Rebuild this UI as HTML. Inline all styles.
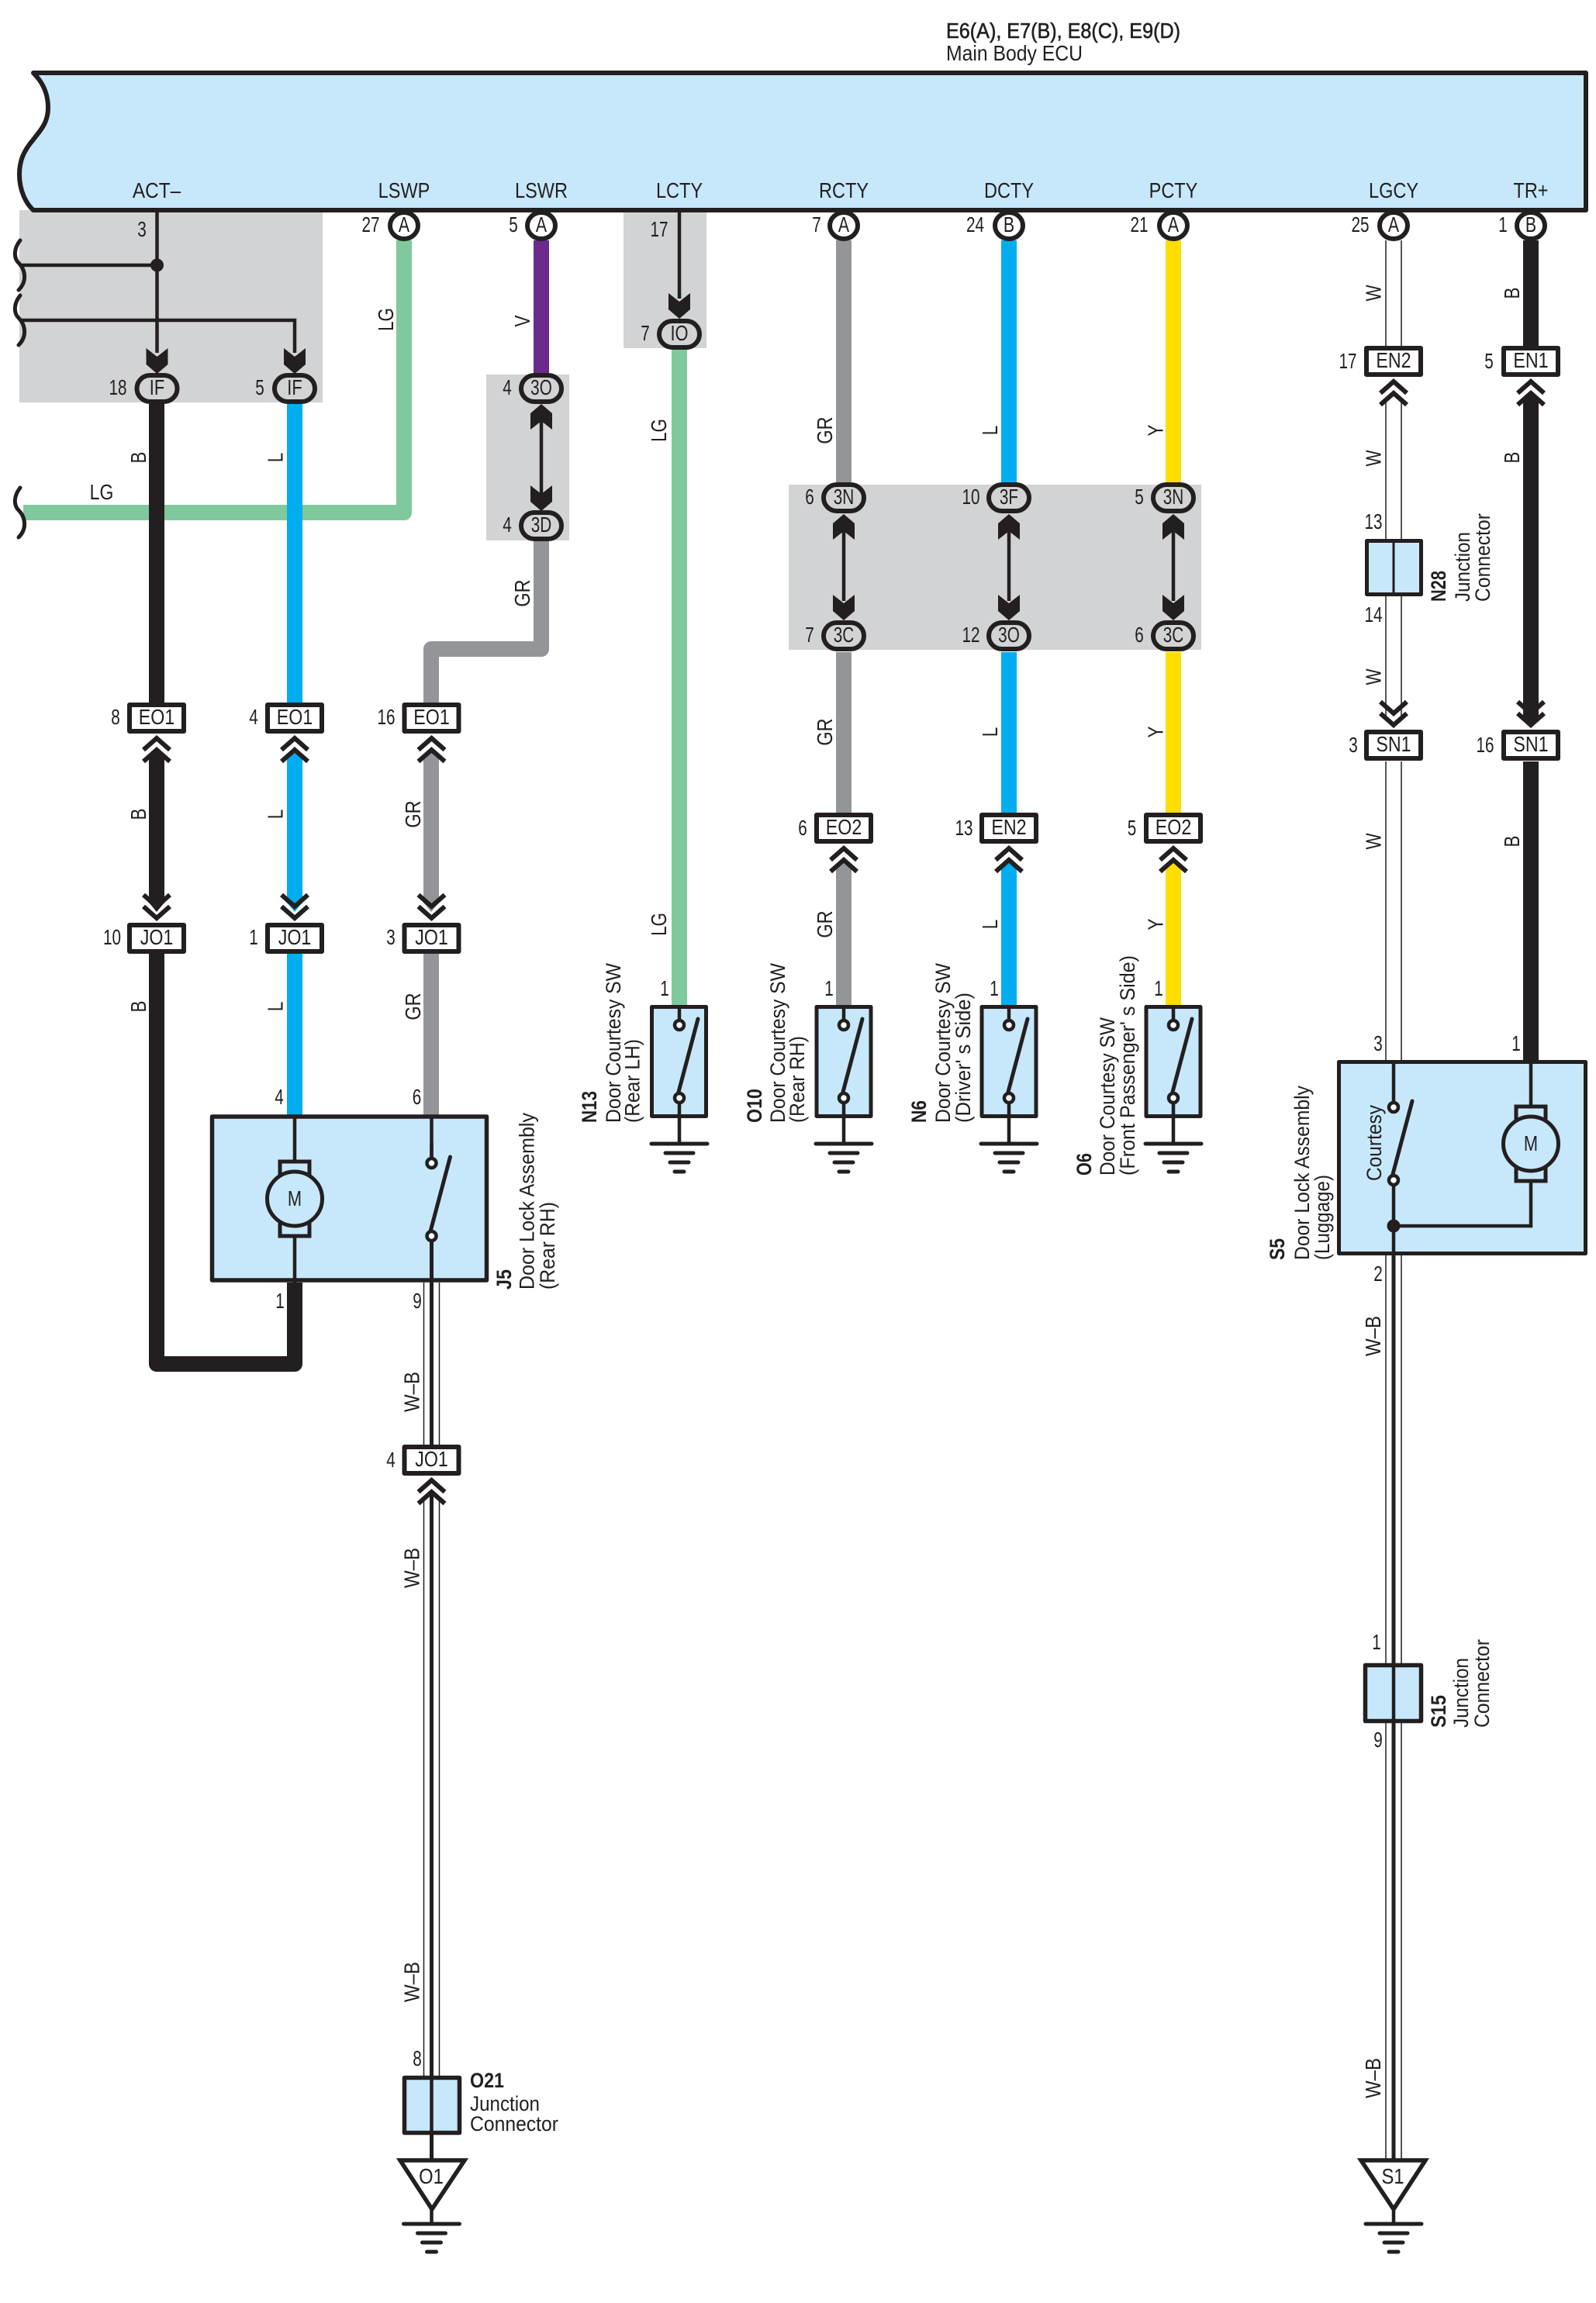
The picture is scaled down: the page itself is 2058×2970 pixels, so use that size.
<!DOCTYPE html>
<html><head><meta charset="utf-8"><style>
html,body{margin:0;padding:0;background:#fff}
svg{display:block}
text{font-family:"Liberation Sans",sans-serif;font-size:28px;fill:#231f20}
.m{text-anchor:middle}
.b{font-weight:bold;font-size:27px}
.r{font-size:27px}
.th{fill:none;stroke:#231f20;stroke-width:4.5}
.tl{fill:none;stroke:#231f20;stroke-width:1.5}
.wb{fill:none;stroke:#231f20;stroke-width:5}
</style></head><body>
<svg xmlns="http://www.w3.org/2000/svg" width="2058" height="2970" viewBox="0 0 2058 2970">
<defs>
<polygon id="ad" fill="#231f20" points="-14,-33 0,-22 14,-33 14,-12 0,0 -14,-12"/>
<polygon id="au" fill="#231f20" points="-14,33 0,22 14,33 14,12 0,0 -14,12"/>
<g id="cu" fill="none" stroke="#231f20" stroke-width="6"><polyline points="-17,21 0,6 17,21"/><polyline points="-17,36 0,21 17,36"/></g>
<g id="cd" fill="none" stroke="#231f20" stroke-width="6"><polyline points="-17,-21 0,-6 17,-21"/><polyline points="-17,-36 0,-21 17,-36"/></g>
<polygon id="tu" points="-10,1 10,1 0,-11"/>
<polygon id="td" points="-10,-1 10,-1 0,11"/>
<rect id="cb" x="-35" y="-17" width="70" height="34" fill="#fff" stroke="#231f20" stroke-width="6" stroke-linejoin="round"/>
<rect id="pl" x="-26" y="-17" width="52" height="34" rx="17" fill="#d1d3d4" stroke="#231f20" stroke-width="6"/>
<ellipse id="ca" rx="18" ry="17" fill="#fff" stroke="#231f20" stroke-width="6"/>
<path id="sq" d="M26,-32 C18,-22 17,-10 24,-3 C32,5 36,20 24,32" fill="none" stroke="#231f20" stroke-width="5" stroke-linecap="round"/>
<g id="gd" stroke="#231f20" stroke-width="5" stroke-linecap="round" fill="none">
<path d="M-36,0H36M-18,12H18M-12,24H12M-6,36H6"/></g>
<g id="sw">
<line x1="0" y1="0" x2="0" y2="26" class="th"/>
<circle cx="0" cy="26" r="6" fill="#fff" stroke="#231f20" stroke-width="4.5"/>
<line x1="-2" y1="116" x2="24" y2="18" stroke="#231f20" stroke-width="5" stroke-linecap="round"/>
<circle cx="0" cy="120" r="6" fill="#fff" stroke="#231f20" stroke-width="4.5"/>
</g>
<g id="mt" fill="none" stroke="#231f20" stroke-width="5">
<rect x="-19" y="-48" width="38" height="18" fill="#c7e8fb"/>
<rect x="-19" y="30" width="38" height="18" fill="#c7e8fb"/>
<ellipse rx="35.5" ry="35" fill="#c7e8fb"/>
</g>
</defs>

<!-- grey panels -->
<rect x="25" y="271" width="391" height="248" fill="#d1d3d4"/>
<rect x="804" y="271" width="107" height="178" fill="#d1d3d4"/>
<rect x="627" y="483" width="107" height="214" fill="#d1d3d4"/>
<rect x="1017" y="625" width="532" height="213" fill="#d1d3d4"/>

<!-- LG under other wires -->
<path d="M521,310V661H30" fill="none" stroke="#80c99c" stroke-width="20" stroke-linejoin="round" stroke-linecap="butt"/>

<!-- ACT thin -->
<path class="th" d="M202.5,271V455M28,342H202M28,413H380V455"/>
<circle cx="202.5" cy="342" r="8.5" fill="#231f20"/>
<use href="#sq" x="0" y="342"/><use href="#sq" x="0" y="413"/><use href="#sq" x="0" y="661"/>

<!-- black ACT -->
<g fill="none" stroke="#231f20" stroke-width="20" stroke-linejoin="round">
<path d="M202,521V906"/>
<path d="M202,976V1165"/>
<path d="M202,1230V1759H380V1654"/>
<path d="M1974,310V446"/>
<path d="M1974,516V923"/>
<path d="M1974,982V1367"/>
</g>
<use href="#tu" x="202" y="976" fill="#231f20"/><use href="#td" x="202" y="1165" fill="#231f20"/>
<use href="#tu" x="1974" y="516" fill="#231f20"/><use href="#td" x="1974" y="923" fill="#231f20"/>

<!-- blue -->
<g fill="none" stroke="#00aeef" stroke-width="20">
<path d="M380,521V906"/><path d="M380,976V1165"/><path d="M380,1230V1438"/>
<path d="M1301,310V622"/><path d="M1301,841V1048"/><path d="M1301,1119V1296"/>
</g>
<use href="#tu" x="380" y="976" fill="#00aeef"/><use href="#td" x="380" y="1165" fill="#00aeef"/>
<use href="#tu" x="1301" y="1119" fill="#00aeef"/>

<!-- grey wires -->
<g fill="none" stroke="#939598" stroke-width="20" stroke-linejoin="round">
<path d="M698,698V837H556V906"/><path d="M556,976V1165"/><path d="M556,1230V1438"/>
<path d="M1088,310V622"/><path d="M1088,841V1048"/><path d="M1088,1119V1296"/>
</g>
<use href="#tu" x="556" y="976" fill="#939598"/><use href="#td" x="556" y="1165" fill="#939598"/>
<use href="#tu" x="1088" y="1119" fill="#939598"/>

<!-- violet, green, yellow -->
<path d="M698,310V481" fill="none" stroke="#6c2a8c" stroke-width="20"/>
<path d="M876,451V1296" fill="none" stroke="#80c99c" stroke-width="20"/>
<g fill="none" stroke="#ffdd00" stroke-width="20">
<path d="M1513,310V622"/><path d="M1513,841V1048"/><path d="M1513,1119V1296"/>
</g>
<use href="#tu" x="1513" y="1119" fill="#ffdd00"/>

<!-- thin lines inside grey -->
<path class="th" d="M876,271V385M698,530V650M1088,670V775M1301,670V775M1513,670V775"/>

<!-- W wire -->
<path class="tl" d="M1787,310V446M1807,310V446M1787,516V695M1807,516V695M1787,769V925M1807,769V925M1787,982V1367M1807,982V1367"/>

<!-- W-B wires -->
<path class="tl" d="M546.5,1654V1863M566.5,1654V1863M546.5,1930V2677M566.5,1930V2677"/>
<path class="wb" d="M556.5,1654V1863M556.5,1925V2677M556.5,2753V2786"/>
<path class="tl" d="M1787,1619V2145M1807,1619V2145M1787,2222V2786M1807,2222V2786"/>
<path class="wb" d="M1797,1619V2145M1797,2222V2786"/>

<!-- ECU -->
<path d="M43,94 C55,106 62,120 62,139 C62,160 50,170 43,180 C30,195 25,208 25,225 C25,245 33,262 43,271 H2045 V94 Z" fill="#c7e8fb" stroke="#231f20" stroke-width="6" stroke-linejoin="round"/>
<text x="1220" y="49" textLength="302" lengthAdjust="spacingAndGlyphs" stroke="#231f20" stroke-width=".6">E6(A), E7(B), E8(C), E9(D)</text>
<text x="1220" y="78" textLength="176" lengthAdjust="spacingAndGlyphs">Main Body ECU</text>
<g>
<text class="m" transform="translate(202,255) scale(.87,1)">ACT–</text>
<text class="m" transform="translate(521,255) scale(.84,1)">LSWP</text>
<text class="m" transform="translate(698,255) scale(.84,1)">LSWR</text>
<text class="m" transform="translate(876,255) scale(.84,1)">LCTY</text>
<text class="m" transform="translate(1088,255) scale(.84,1)">RCTY</text>
<text class="m" transform="translate(1301,255) scale(.84,1)">DCTY</text>
<text class="m" transform="translate(1513,255) scale(.84,1)">PCTY</text>
<text class="m" transform="translate(1797,255) scale(.84,1)">LGCY</text>
<text class="m" transform="translate(1974,255) scale(.84,1)">TR+</text>
</g>

<!-- ECU pin circles -->
<g>
<use href="#ca" x="521" y="291"/><use href="#ca" x="698" y="291"/><use href="#ca" x="1088" y="291"/><use href="#ca" x="1301" y="291"/><use href="#ca" x="1513" y="291"/><use href="#ca" x="1797" y="291"/><use href="#ca" x="1974" y="291"/>
<text class="m" transform="translate(521,299) scale(.76,1)">A</text>
<text class="m" transform="translate(698,299) scale(.76,1)">A</text>
<text class="m" transform="translate(1088,299) scale(.76,1)">A</text>
<text class="m" transform="translate(1301,299) scale(.76,1)">B</text>
<text class="m" transform="translate(1513,299) scale(.76,1)">A</text>
<text class="m" transform="translate(1797,299) scale(.76,1)">A</text>
<text class="m" transform="translate(1974,299) scale(.76,1)">B</text>
</g>

<!-- pills & arrows -->
<use href="#ad" x="202.5" y="482"/><use href="#ad" x="380" y="482"/><use href="#ad" x="876" y="411"/>
<use href="#au" x="698" y="521"/><use href="#ad" x="698" y="659"/>
<use href="#au" x="1088" y="663"/><use href="#ad" x="1088" y="800"/>
<use href="#au" x="1301" y="663"/><use href="#ad" x="1301" y="800"/>
<use href="#au" x="1513" y="663"/><use href="#ad" x="1513" y="800"/>
<use href="#pl" x="202.5" y="501"/><use href="#pl" x="380" y="501"/><use href="#pl" x="876" y="431"/>
<use href="#pl" x="698" y="501"/><use href="#pl" x="698" y="678"/>
<use href="#pl" x="1088" y="642"/><use href="#pl" x="1301" y="642"/><use href="#pl" x="1513" y="642"/>
<use href="#pl" x="1088" y="820"/><use href="#pl" x="1301" y="820"/><use href="#pl" x="1513" y="820"/>
<g>
<text class="m" transform="translate(202.5,509) scale(.78,1)">IF</text>
<text class="m" transform="translate(380,509) scale(.78,1)">IF</text>
<text class="m" transform="translate(876,439) scale(.78,1)">IO</text>
<text class="m" transform="translate(698,509) scale(.74,1)">3O</text>
<text class="m" transform="translate(698,686) scale(.74,1)">3D</text>
<text class="m" transform="translate(1088,650) scale(.74,1)">3N</text>
<text class="m" transform="translate(1301,650) scale(.74,1)">3F</text>
<text class="m" transform="translate(1513,650) scale(.74,1)">3N</text>
<text class="m" transform="translate(1088,828) scale(.74,1)">3C</text>
<text class="m" transform="translate(1301,828) scale(.74,1)">3O</text>
<text class="m" transform="translate(1513,828) scale(.74,1)">3C</text>
</g>

<!-- rectangular connectors -->
<use href="#cb" x="202" y="926"/><use href="#cb" x="380" y="926"/><use href="#cb" x="556.5" y="926"/>
<use href="#cb" x="202" y="1210"/><use href="#cb" x="380" y="1210"/><use href="#cb" x="556.5" y="1210"/>
<use href="#cb" x="556.5" y="1883"/>
<use href="#cb" x="1088" y="1068"/><use href="#cb" x="1301" y="1068"/><use href="#cb" x="1513" y="1068"/>
<use href="#cb" x="1797" y="466"/><use href="#cb" x="1974" y="466"/>
<use href="#cb" x="1797" y="961"/><use href="#cb" x="1974" y="961"/>
<use href="#cu" x="202" y="946"/><use href="#cu" x="380" y="946"/><use href="#cu" x="556.5" y="946"/>
<use href="#cd" x="202" y="1190"/><use href="#cd" x="380" y="1190"/><use href="#cd" x="556.5" y="1190"/>
<use href="#cu" x="556.5" y="1903"/>
<use href="#cu" x="1088" y="1088"/><use href="#cu" x="1301" y="1088"/><use href="#cu" x="1513" y="1088"/>
<use href="#cu" x="1797" y="486"/><use href="#cu" x="1974" y="486"/>
<use href="#cd" x="1797" y="941"/><use href="#cd" x="1974" y="941"/>
<g>
<text class="m" transform="translate(202,934) scale(.83,1)">EO1</text>
<text class="m" transform="translate(380,934) scale(.83,1)">EO1</text>
<text class="m" transform="translate(556.5,934) scale(.83,1)">EO1</text>
<text class="m" transform="translate(202,1218) scale(.83,1)">JO1</text>
<text class="m" transform="translate(380,1218) scale(.83,1)">JO1</text>
<text class="m" transform="translate(556.5,1218) scale(.83,1)">JO1</text>
<text class="m" transform="translate(556.5,1891) scale(.83,1)">JO1</text>
<text class="m" transform="translate(1088,1076) scale(.83,1)">EO2</text>
<text class="m" transform="translate(1301,1076) scale(.83,1)">EN2</text>
<text class="m" transform="translate(1513,1076) scale(.83,1)">EO2</text>
<text class="m" transform="translate(1797,474) scale(.83,1)">EN2</text>
<text class="m" transform="translate(1974,474) scale(.83,1)">EN1</text>
<text class="m" transform="translate(1797,969) scale(.83,1)">SN1</text>
<text class="m" transform="translate(1974,969) scale(.83,1)">SN1</text>
</g>

<!-- J5 -->
<rect x="273.5" y="1440" width="354" height="211" fill="#c7e8fb" stroke="#231f20" stroke-width="5.5" stroke-linejoin="round"/>
<path class="th" d="M380,1438V1654"/>
<use href="#mt" x="380" y="1546"/>
<text class="m" transform="translate(380,1555) scale(.78,1)">M</text>
<g transform="translate(556.5,1474)">
<line x1="0" y1="-36" x2="0" y2="25" class="th"/>
<line x1="0" y1="120" x2="0" y2="180" class="wb"/>
<use href="#sw" y="0"/>
</g>

<!-- Switches -->
<g stroke-linejoin="round">
<rect x="840.5" y="1298.5" width="70" height="141" fill="#c7e8fb" stroke="#231f20" stroke-width="5"/>
<rect x="1053" y="1298.5" width="70" height="141" fill="#c7e8fb" stroke="#231f20" stroke-width="5"/>
<rect x="1266" y="1298.5" width="70" height="141" fill="#c7e8fb" stroke="#231f20" stroke-width="5"/>
<rect x="1478" y="1298.5" width="70" height="141" fill="#c7e8fb" stroke="#231f20" stroke-width="5"/>
<path class="th" d="M876,1416V1475M1088,1416V1475M1301,1416V1475M1513,1416V1475"/>
<use href="#sw" x="876" y="1296"/><use href="#sw" x="1088" y="1296"/><use href="#sw" x="1301" y="1296"/><use href="#sw" x="1513" y="1296"/>
<use href="#gd" x="876" y="1475"/><use href="#gd" x="1088" y="1475"/><use href="#gd" x="1301" y="1475"/><use href="#gd" x="1513" y="1475"/>
</g>

<!-- N28 -->
<rect x="1762.5" y="697.5" width="70" height="69" fill="#c7e8fb" stroke="#231f20" stroke-width="5" stroke-linejoin="round"/>
<path d="M1797,695V769" stroke="#231f20" stroke-width="3" fill="none"/>

<!-- S5 -->
<rect x="1726.5" y="1369.5" width="318" height="247" fill="#c7e8fb" stroke="#231f20" stroke-width="5" stroke-linejoin="round"/>
<path class="th" d="M1797,1367V1402M1797,1522V1619M1797,1581H1974V1524M1974,1367V1427"/>
<use href="#sw" x="1797" y="1402"/>
<circle cx="1797" cy="1581" r="8.5" fill="#231f20"/>
<use href="#mt" x="1974" y="1475"/>
<text class="m" transform="translate(1974,1484) scale(.78,1)">M</text>
<text transform="translate(1781,1523) rotate(-90)" textLength="98" lengthAdjust="spacingAndGlyphs" class="r">Courtesy</text>

<!-- S15 & O21 -->
<rect x="1760.5" y="2147.5" width="72" height="72" fill="#c7e8fb" stroke="#231f20" stroke-width="5.5" stroke-linejoin="round"/>
<path class="wb" d="M1797,2145V2222" style="stroke-width:4.5"/>
<rect x="521.5" y="2679.5" width="71" height="71" fill="#c7e8fb" stroke="#231f20" stroke-width="5.5" stroke-linejoin="round"/>
<path class="wb" d="M556.5,2677V2753" style="stroke-width:4.5"/>

<!-- grounds -->
<g fill="#fff" stroke="#231f20" stroke-width="5.5" stroke-linejoin="miter">
<polygon points="516,2786 599,2786 557,2849"/>
<polygon points="1755,2786 1838,2786 1797,2849"/>
</g>
<path class="th" d="M556.5,2849V2868M1797,2849V2868"/>
<use href="#gd" x="556.5" y="2868"/><use href="#gd" x="1797" y="2868"/>
<text class="m" transform="translate(556,2816) scale(.85,1)">O1</text>
<text class="m" transform="translate(1796,2816) scale(.85,1)">S1</text>

<!-- pin numbers -->
<g>
<text class="m" transform="translate(183,305) scale(.74,1)">3</text>
<text class="m" transform="translate(478,299) scale(.74,1)">27</text>
<text class="m" transform="translate(662,299) scale(.74,1)">5</text>
<text class="m" transform="translate(850,305) scale(.74,1)">17</text>
<text class="m" transform="translate(1053,299) scale(.74,1)">7</text>
<text class="m" transform="translate(1257.5,299) scale(.74,1)">24</text>
<text class="m" transform="translate(1469,299) scale(.74,1)">21</text>
<text class="m" transform="translate(1754,299) scale(.74,1)">25</text>
<text class="m" transform="translate(1938,299) scale(.74,1)">1</text>
<text class="m" transform="translate(152,509) scale(.74,1)">18</text>
<text class="m" transform="translate(335,509) scale(.74,1)">5</text>
<text class="m" transform="translate(832,439) scale(.74,1)">7</text>
<text class="m" transform="translate(654,509) scale(.74,1)">4</text>
<text class="m" transform="translate(654,686) scale(.74,1)">4</text>
<text class="m" transform="translate(1044,650) scale(.74,1)">6</text>
<text class="m" transform="translate(1252,650) scale(.74,1)">10</text>
<text class="m" transform="translate(1469,650) scale(.74,1)">5</text>
<text class="m" transform="translate(1044,828) scale(.74,1)">7</text>
<text class="m" transform="translate(1252,828) scale(.74,1)">12</text>
<text class="m" transform="translate(1469,828) scale(.74,1)">6</text>
<text class="m" transform="translate(149,934) scale(.74,1)">8</text>
<text class="m" transform="translate(327,934) scale(.74,1)">4</text>
<text class="m" transform="translate(498,934) scale(.74,1)">16</text>
<text class="m" transform="translate(144.5,1218) scale(.74,1)">10</text>
<text class="m" transform="translate(327,1218) scale(.74,1)">1</text>
<text class="m" transform="translate(504,1218) scale(.74,1)">3</text>
<text class="m" transform="translate(360,1424) scale(.74,1)">4</text>
<text class="m" transform="translate(537.5,1424) scale(.74,1)">6</text>
<text class="m" transform="translate(361,1687) scale(.74,1)">1</text>
<text class="m" transform="translate(538,1687) scale(.74,1)">9</text>
<text class="m" transform="translate(504,1892) scale(.74,1)">4</text>
<text class="m" transform="translate(538,2664) scale(.74,1)">8</text>
<text class="m" transform="translate(1035,1077) scale(.74,1)">6</text>
<text class="m" transform="translate(1243,1077) scale(.74,1)">13</text>
<text class="m" transform="translate(1459.5,1077) scale(.74,1)">5</text>
<text class="m" transform="translate(857,1284) scale(.74,1)">1</text>
<text class="m" transform="translate(1069,1284) scale(.74,1)">1</text>
<text class="m" transform="translate(1282,1284) scale(.74,1)">1</text>
<text class="m" transform="translate(1494,1284) scale(.74,1)">1</text>
<text class="m" transform="translate(1738,475) scale(.74,1)">17</text>
<text class="m" transform="translate(1920,475) scale(.74,1)">5</text>
<text class="m" transform="translate(1771,682) scale(.74,1)">13</text>
<text class="m" transform="translate(1771,802) scale(.74,1)">14</text>
<text class="m" transform="translate(1745,970) scale(.74,1)">3</text>
<text class="m" transform="translate(1915,970) scale(.74,1)">16</text>
<text class="m" transform="translate(1777,1355) scale(.74,1)">3</text>
<text class="m" transform="translate(1955,1355) scale(.74,1)">1</text>
<text class="m" transform="translate(1777,1652) scale(.74,1)">2</text>
<text class="m" transform="translate(1775,2127) scale(.74,1)">1</text>
<text class="m" transform="translate(1777,2253) scale(.74,1)">9</text>
</g>

<!-- wire colour labels -->
<g>
<text class="m" transform="translate(131,644) scale(.82,1)">LG</text>
<text class="m" transform="translate(188,590) rotate(-90) scale(.8,1)">B</text>
<text class="m" transform="translate(364.5,590) rotate(-90) scale(.8,1)">L</text>
<text class="m" transform="translate(507,412) rotate(-90) scale(.8,1)">LG</text>
<text class="m" transform="translate(683,414) rotate(-90) scale(.8,1)">V</text>
<text class="m" transform="translate(859,555) rotate(-90) scale(.8,1)">LG</text>
<text class="m" transform="translate(683,765) rotate(-90) scale(.84,1)">GR</text>
<text class="m" transform="translate(188,1050) rotate(-90) scale(.8,1)">B</text>
<text class="m" transform="translate(364.5,1050) rotate(-90) scale(.8,1)">L</text>
<text class="m" transform="translate(542,1050) rotate(-90) scale(.84,1)">GR</text>
<text class="m" transform="translate(188,1298) rotate(-90) scale(.8,1)">B</text>
<text class="m" transform="translate(364.5,1298) rotate(-90) scale(.8,1)">L</text>
<text class="m" transform="translate(542,1298) rotate(-90) scale(.84,1)">GR</text>
<text class="m" transform="translate(859,1192) rotate(-90) scale(.8,1)">LG</text>
<text class="m" transform="translate(1073,555) rotate(-90) scale(.84,1)">GR</text>
<text class="m" transform="translate(1286,555) rotate(-90) scale(.8,1)">L</text>
<text class="m" transform="translate(1499.5,555) rotate(-90) scale(.8,1)">Y</text>
<text class="m" transform="translate(1073,944) rotate(-90) scale(.84,1)">GR</text>
<text class="m" transform="translate(1286,944) rotate(-90) scale(.8,1)">L</text>
<text class="m" transform="translate(1499.5,944) rotate(-90) scale(.8,1)">Y</text>
<text class="m" transform="translate(1073,1192) rotate(-90) scale(.84,1)">GR</text>
<text class="m" transform="translate(1286,1192) rotate(-90) scale(.8,1)">L</text>
<text class="m" transform="translate(1499.5,1192) rotate(-90) scale(.8,1)">Y</text>
<text class="m" transform="translate(1780.5,378) rotate(-90) scale(.8,1)">W</text>
<text class="m" transform="translate(1959,378) rotate(-90) scale(.8,1)">B</text>
<text class="m" transform="translate(1780.5,591) rotate(-90) scale(.8,1)">W</text>
<text class="m" transform="translate(1959,590) rotate(-90) scale(.8,1)">B</text>
<text class="m" transform="translate(1780.5,873) rotate(-90) scale(.8,1)">W</text>
<text class="m" transform="translate(1780.5,1085) rotate(-90) scale(.8,1)">W</text>
<text class="m" transform="translate(1959,1085) rotate(-90) scale(.8,1)">B</text>
<text transform="translate(540.5,1821) rotate(-90)" textLength="52" lengthAdjust="spacingAndGlyphs">W–B</text>
<text transform="translate(540.5,2048) rotate(-90)" textLength="52" lengthAdjust="spacingAndGlyphs">W–B</text>
<text transform="translate(540.5,2582) rotate(-90)" textLength="52" lengthAdjust="spacingAndGlyphs">W–B</text>
<text transform="translate(1780,1749) rotate(-90)" textLength="52" lengthAdjust="spacingAndGlyphs">W–B</text>
<text transform="translate(1780,2706) rotate(-90)" textLength="52" lengthAdjust="spacingAndGlyphs">W–B</text>
</g>

<!-- component labels -->
<g>
<text class="b" transform="translate(769,1448) rotate(-90)" textLength="41" lengthAdjust="spacingAndGlyphs">N13</text>
<text class="r" transform="translate(800,1448) rotate(-90)" textLength="206" lengthAdjust="spacingAndGlyphs">Door Courtesy SW</text>
<text class="r" transform="translate(824.5,1448) rotate(-90)" textLength="108" lengthAdjust="spacingAndGlyphs">(Rear LH)</text>
<text class="b" transform="translate(982,1448) rotate(-90)" textLength="44" lengthAdjust="spacingAndGlyphs">O10</text>
<text class="r" transform="translate(1012,1448) rotate(-90)" textLength="206" lengthAdjust="spacingAndGlyphs">Door Courtesy SW</text>
<text class="r" transform="translate(1037,1448) rotate(-90)" textLength="112" lengthAdjust="spacingAndGlyphs">(Rear RH)</text>
<text class="b" transform="translate(1194,1448) rotate(-90)" textLength="29" lengthAdjust="spacingAndGlyphs">N6</text>
<text class="r" transform="translate(1225,1448) rotate(-90)" textLength="206" lengthAdjust="spacingAndGlyphs">Door Courtesy SW</text>
<text class="r" transform="translate(1251,1448) rotate(-90)" textLength="168" lengthAdjust="spacingAndGlyphs">(Driver' s Side)</text>
<text class="b" transform="translate(1407,1516) rotate(-90)" textLength="29" lengthAdjust="spacingAndGlyphs">O6</text>
<text class="r" transform="translate(1437,1516) rotate(-90)" textLength="204" lengthAdjust="spacingAndGlyphs">Door Courtesy SW</text>
<text class="r" transform="translate(1463,1516) rotate(-90)" textLength="284" lengthAdjust="spacingAndGlyphs">(Front Passenger' s Side)</text>
<text class="b" transform="translate(659,1663) rotate(-90)" textLength="26" lengthAdjust="spacingAndGlyphs">J5</text>
<text class="r" transform="translate(688.5,1663) rotate(-90)" textLength="228" lengthAdjust="spacingAndGlyphs">Door Lock Assembly</text>
<text class="r" transform="translate(715,1663) rotate(-90)" textLength="113" lengthAdjust="spacingAndGlyphs">(Rear RH)</text>
<text class="b" transform="translate(1656,1625) rotate(-90)" textLength="28" lengthAdjust="spacingAndGlyphs">S5</text>
<text class="r" transform="translate(1688,1625) rotate(-90)" textLength="225" lengthAdjust="spacingAndGlyphs">Door Lock Assembly</text>
<text class="r" transform="translate(1714,1625) rotate(-90)" textLength="110" lengthAdjust="spacingAndGlyphs">(Luggage)</text>
<text class="b" transform="translate(1864,776) rotate(-90)" textLength="40" lengthAdjust="spacingAndGlyphs">N28</text>
<text class="r" transform="translate(1895,776) rotate(-90)" textLength="90" lengthAdjust="spacingAndGlyphs">Junction</text>
<text class="r" transform="translate(1921,776) rotate(-90)" textLength="114" lengthAdjust="spacingAndGlyphs">Connector</text>
<text class="b" transform="translate(1864,2228) rotate(-90)" textLength="42" lengthAdjust="spacingAndGlyphs">S15</text>
<text class="r" transform="translate(1893,2228) rotate(-90)" textLength="90" lengthAdjust="spacingAndGlyphs">Junction</text>
<text class="r" transform="translate(1920,2228) rotate(-90)" textLength="114" lengthAdjust="spacingAndGlyphs">Connector</text>
<text class="b" x="606" y="2692" textLength="44" lengthAdjust="spacingAndGlyphs">O21</text>
<text class="r" x="606" y="2722" textLength="90" lengthAdjust="spacingAndGlyphs">Junction</text>
<text class="r" x="606" y="2748" textLength="114" lengthAdjust="spacingAndGlyphs">Connector</text>
</g>
</svg>
</body></html>
